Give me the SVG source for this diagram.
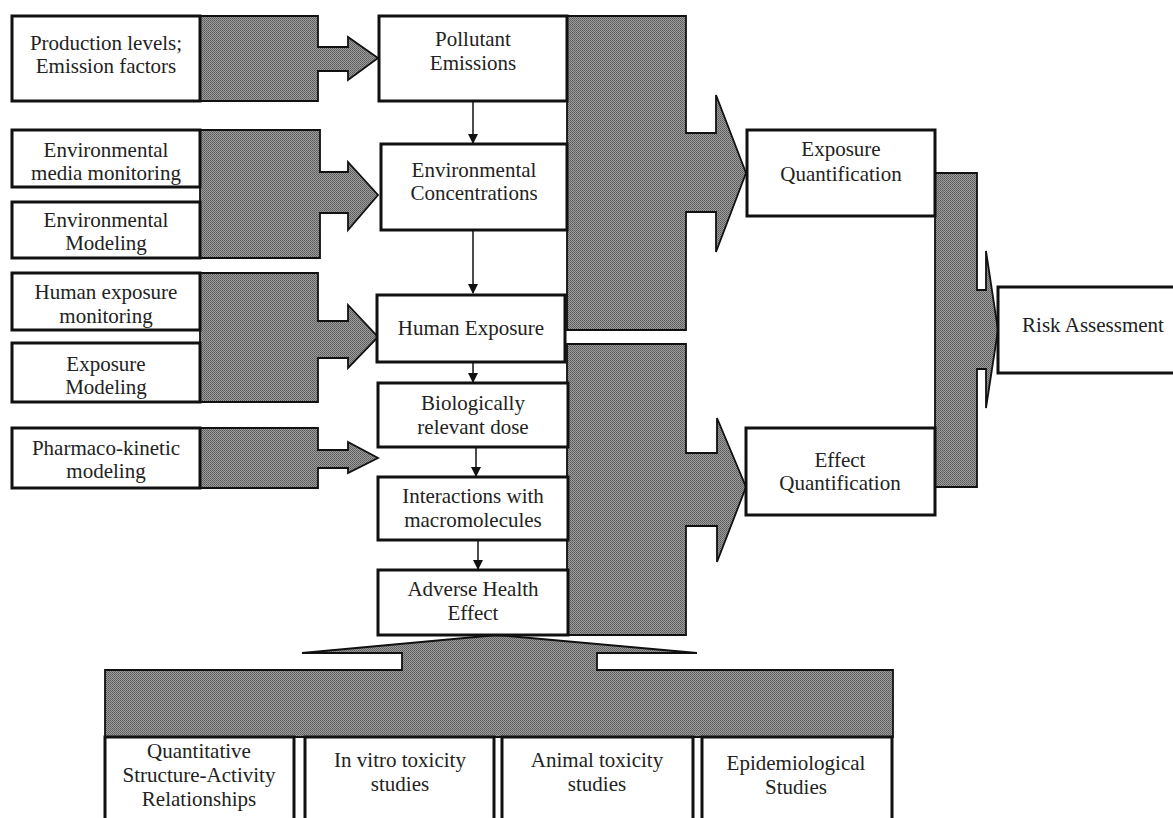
<svg xmlns="http://www.w3.org/2000/svg" width="1173" height="818" viewBox="0 0 1173 818">
<defs>
<pattern id="stip" width="2" height="2" patternUnits="userSpaceOnUse">
<rect width="2" height="2" fill="#9c9c9c"/>
<rect width="1" height="1" fill="#5a5a5a"/>
<rect x="1" y="1" width="1" height="1" fill="#6a6a6a"/>
</pattern>
<marker id="ah" markerWidth="10" markerHeight="10" refX="9" refY="5" orient="auto" markerUnits="userSpaceOnUse">
<path d="M0,0 L10,5 L0,10 Z" fill="#111"/>
</marker>
<style>
.box{fill:#fff;stroke:#111;stroke-width:3}
.grey{fill:url(#stip);stroke:#111;stroke-width:1.8;stroke-linejoin:miter}
.t{font-family:"Liberation Serif","Times New Roman",serif;font-size:21px;fill:#222;text-anchor:middle}
.ln{stroke:#111;stroke-width:1.5;fill:none}
</style>
</defs>
<rect width="1173" height="818" fill="#fff"/>
<g id="connectors">
<polygon class="grey" points="200,16 318,16 318,47 348,47 348,37 378,58 348,80 348,71 318,71 318,101 200,101"/>
<polygon class="grey" points="200,130 320,130 320,172 348,172 348,162 378,195 348,230 348,213 320,213 320,258 200,258"/>
<polygon class="grey" points="200,273 318,273 318,321 348,321 348,305 378,337 348,368 348,358 318,358 318,402 200,402"/>
<polygon class="grey" points="200,428 318,428 318,450 348,450 348,442 378,458 348,473 348,468 318,468 318,488 200,488"/>
<polygon class="grey" points="567,16 686,16 686,133 716,133 716,95 746,173 716,252 716,212 686,212 686,330 567,330"/>
<polygon class="grey" points="567,344 686,344 686,453 717,453 717,418 746,487 717,562 717,526 686,526 686,635 567,635"/>
<polygon class="grey" points="935,173 977,173 977,290 986,290 986,251 998,330 986,408 986,369 977,369 977,487 935,487"/>
<polygon class="grey" points="497,635 697,653 597,653 597,670 893,670 893,737 105,737 105,670 402,670 402,653 302,653"/>
<line class="ln" x1="473" y1="101" x2="473" y2="143" marker-end="url(#ah)"/>
<line class="ln" x1="473" y1="230" x2="473" y2="293" marker-end="url(#ah)"/>
<line class="ln" x1="473" y1="362" x2="473" y2="382" marker-end="url(#ah)"/>
<line class="ln" x1="476" y1="447" x2="476" y2="476" marker-end="url(#ah)"/>
<line class="ln" x1="478" y1="540" x2="478" y2="569" marker-end="url(#ah)"/>
</g>
<g id="n-production"><rect class="box" x="12" y="16" width="188" height="85"/><text class="t" x="106" y="50">Production levels;</text><text class="t" x="106" y="73">Emission factors</text></g>
<g id="n-envmon"><rect class="box" x="12" y="130" width="188" height="57"/><text class="t" x="106" y="157">Environmental</text><text class="t" x="106" y="180">media monitoring</text></g>
<g id="n-envmod"><rect class="box" x="12" y="202" width="188" height="56"/><text class="t" x="106" y="227">Environmental</text><text class="t" x="106" y="250">Modeling</text></g>
<g id="n-humon"><rect class="box" x="12" y="273" width="188" height="57"/><text class="t" x="106" y="299">Human exposure</text><text class="t" x="106" y="323">monitoring</text></g>
<g id="n-expmod"><rect class="box" x="12" y="343" width="188" height="59"/><text class="t" x="106" y="371">Exposure</text><text class="t" x="106" y="394">Modeling</text></g>
<g id="n-pharma"><rect class="box" x="12" y="428" width="188" height="60"/><text class="t" x="106" y="455">Pharmaco-kinetic</text><text class="t" x="106" y="478">modeling</text></g>
<g id="n-pollutant"><rect class="box" x="379" y="16" width="188" height="85"/><text class="t" x="473" y="46">Pollutant</text><text class="t" x="473" y="70">Emissions</text></g>
<g id="n-envconc"><rect class="box" x="381" y="144" width="186" height="86"/><text class="t" x="474" y="177">Environmental</text><text class="t" x="474" y="200">Concentrations</text></g>
<g id="n-humexp"><rect class="box" x="377" y="295" width="188" height="67"/><text class="t" x="471" y="335">Human Exposure</text></g>
<g id="n-biodose"><rect class="box" x="378" y="383" width="190" height="64"/><text class="t" x="473" y="410">Biologically</text><text class="t" x="473" y="434">relevant dose</text></g>
<g id="n-interact"><rect class="box" x="378" y="477" width="190" height="63"/><text class="t" x="473" y="503">Interactions with</text><text class="t" x="473" y="527">macromolecules</text></g>
<g id="n-adverse"><rect class="box" x="378" y="570" width="190" height="65"/><text class="t" x="473" y="596">Adverse Health</text><text class="t" x="473" y="620">Effect</text></g>
<g id="n-expquant"><rect class="box" x="747" y="130" width="188" height="86"/><text class="t" x="841" y="156">Exposure</text><text class="t" x="841" y="181">Quantification</text></g>
<g id="n-effquant"><rect class="box" x="746" y="428" width="189" height="87"/><text class="t" x="840" y="467">Effect</text><text class="t" x="840" y="490">Quantification</text></g>
<g id="n-risk"><rect class="box" x="998" y="287" width="180" height="86"/><text class="t" x="1093" y="332">Risk Assessment</text></g>
<g id="n-qsar"><rect class="box" x="105" y="737" width="189" height="95"/><text class="t" x="199" y="758">Quantitative</text><text class="t" x="199" y="782">Structure-Activity</text><text class="t" x="199" y="806">Relationships</text></g>
<g id="n-invitro"><rect class="box" x="305" y="737" width="189" height="95"/><text class="t" x="400" y="767">In vitro toxicity</text><text class="t" x="400" y="791">studies</text></g>
<g id="n-animal"><rect class="box" x="502" y="737" width="191" height="95"/><text class="t" x="597" y="767">Animal toxicity</text><text class="t" x="597" y="791">studies</text></g>
<g id="n-epi"><rect class="box" x="702" y="737" width="190" height="95"/><text class="t" x="796" y="770">Epidemiological</text><text class="t" x="796" y="794">Studies</text></g>
</svg>
